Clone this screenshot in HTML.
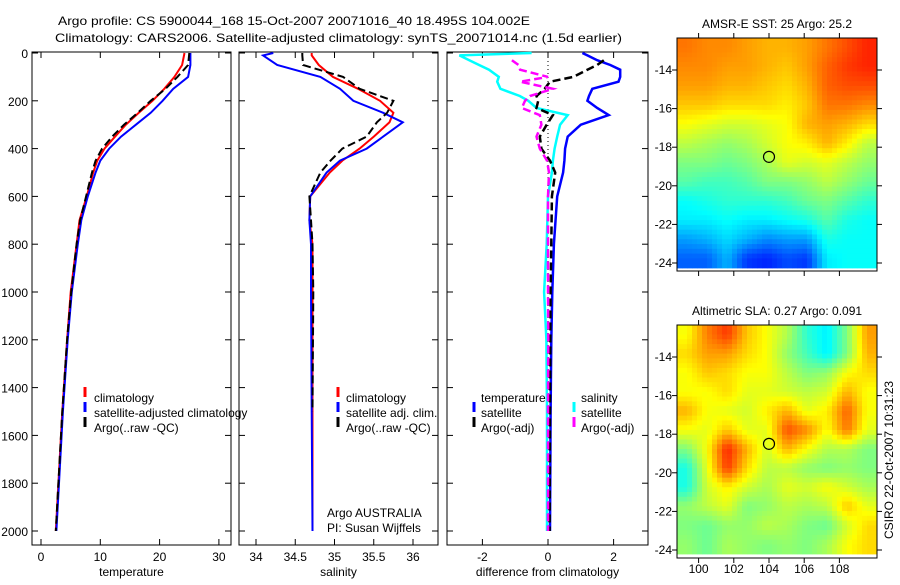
<!DOCTYPE html>
<html><head><meta charset="utf-8"><style>
html,body{margin:0;padding:0;background:#fff;}
svg text{font-family:"Liberation Sans",sans-serif;font-size:12px;fill:#000;}
</style></head><body>
<svg id="fig" width="900" height="580" viewBox="0 0 900 580">
<text x="58" y="25" font-size="15" textLength="472" lengthAdjust="spacingAndGlyphs">Argo profile: CS 5900044_168 15-Oct-2007 20071016_40 18.495S 104.002E</text>
<text x="55" y="42" font-size="15" textLength="567" lengthAdjust="spacingAndGlyphs">Climatology: CARS2006. Satellite-adjusted climatology: synTS_20071014.nc (1.5d earlier)</text>
<g id="g"></g>
</svg>
<script>
// ---- data ----
const depthT = [0,50,100,150,200,250,300,350,400,450,500,600,700,800,1000,1200,1500,2000];
const tempClim = [24.2,23.8,22.5,20.8,18.8,16.5,14.3,12.5,10.7,9.5,8.8,7.7,6.5,6.0,5.0,4.4,3.6,2.5];
const tempSat = [25.2,25.2,24.8,22.3,20.5,18.5,16.0,13.5,11.5,10.0,9.2,7.9,6.8,6.2,5.2,4.5,3.7,2.6];
const tempArgo = [25.0,24.8,23.0,21.0,18.5,16.3,14.0,12.0,10.3,9.2,8.6,7.6,6.6,6.0,5.1,4.4,3.6,2.5];

const depthS = [0,10,50,100,150,200,250,290,350,400,450,500,600,700,800,1000,1500,2000];
const salClim = [34.71,34.71,34.80,34.98,35.30,35.58,35.75,35.70,35.50,35.32,35.10,34.94,34.69,34.68,34.72,34.72,34.72,34.72];
const salSat = [34.22,34.09,34.27,34.82,35.07,35.24,35.62,35.87,35.62,35.41,35.07,34.90,34.69,34.68,34.70,34.70,34.71,34.72];
const salArgo = [34.59,34.59,34.60,35.11,35.32,35.75,35.67,35.54,35.41,35.10,34.95,34.82,34.68,34.70,34.72,34.73,34.72,34.72];

const depthD = [0,10,30,50,70,100,120,150,180,200,230,260,300,350,400,450,500,600,800,1000,1200,1500,2000];
const dTempSat = [1.05,1.2,1.5,1.9,2.2,2.2,2.15,1.35,1.25,1.2,1.5,1.85,1.0,0.6,0.52,0.5,0.46,0.28,0.18,0.13,0.1,0.08,0.06];
const dSalSat = [-0.5,-2.7,-2.4,-2.1,-1.8,-1.5,-1.55,-1.45,-0.86,-0.6,-0.35,0.6,0.37,0.28,0.2,0.15,0.12,0.0,-0.04,-0.12,-0.05,-0.03,-0.03];
const dTempArgo = [null,null,1.7,1.5,1.2,0.77,0.06,-0.1,-0.35,-0.3,-0.35,0.15,-0.04,-0.25,-0.2,0.06,0.22,0.12,0.1,0.08,0.07,0.06,0.05];
const dSalArgo = [null,null,-1.1,-0.9,-0.85,0.0,-0.85,0.15,-0.55,-0.7,-0.8,-0.25,-0.2,-0.35,-0.25,-0.03,0.03,0.0,0.0,0.0,0.01,0.0,0.0];

const depthTicks = [0,200,400,600,800,1000,1200,1400,1600,1800,2000];
const tempTicks = [0,10,20,30];
const salTicks = [34,34.5,35,35.5,36];
const salTickLabels = ["34","34.5","35","35.5","36"];
const diffTicks = [-2,0,2];
const lonTicks = [100,102,104,106,108];
const latTicks = [-14,-16,-18,-20,-22,-24];

const sstGrid = [
[.76,.74,.74,.72,.70,.70,.72,.76,.80,.84],
[.74,.74,.72,.72,.70,.68,.72,.78,.82,.84],
[.72,.72,.70,.70,.68,.66,.70,.78,.80,.80],
[.68,.68,.66,.66,.66,.64,.68,.76,.76,.74],
[.62,.60,.58,.58,.60,.62,.70,.72,.70,.66],
[.56,.54,.52,.54,.58,.62,.64,.70,.64,.56],
[.50,.50,.48,.50,.54,.60,.58,.60,.56,.52],
[.46,.44,.44,.46,.50,.50,.52,.56,.52,.48],
[.38,.40,.42,.42,.42,.44,.48,.50,.46,.42],
[.36,.36,.38,.36,.36,.38,.40,.46,.40,.38],
[.28,.30,.34,.30,.26,.28,.28,.40,.38,.38],
[.22,.22,.30,.18,.16,.20,.18,.36,.38,.38]];
const slaGrid = [
[.62,.75,.82,.68,.62,.55,.42,.36,.50,.72],
[.66,.72,.72,.66,.62,.52,.44,.36,.50,.70],
[.62,.68,.66,.62,.62,.56,.50,.52,.62,.66],
[.62,.62,.66,.60,.60,.58,.56,.58,.70,.62],
[.70,.62,.60,.58,.64,.70,.60,.64,.78,.62],
[.62,.60,.68,.60,.60,.80,.74,.62,.76,.60],
[.50,.62,.84,.70,.58,.70,.62,.55,.55,.50],
[.40,.60,.82,.66,.56,.56,.52,.50,.52,.50],
[.40,.58,.64,.58,.54,.60,.58,.62,.58,.54],
[.52,.56,.60,.50,.52,.56,.54,.56,.68,.60],
[.50,.48,.52,.52,.56,.54,.50,.48,.58,.66],
[.52,.48,.54,.52,.50,.52,.50,.54,.62,.66]];
const argoLon = 104.0, argoLat = -18.5;

// ---- drawing ----
const NS='http://www.w3.org/2000/svg';
const G=document.getElementById('g');
function el(t,a,p){const e=document.createElementNS(NS,t);for(const k in a)e.setAttribute(k,a[k]);(p||G).appendChild(e);return e;}
const yD = d => 53 + d*0.239;
function line(xs, ds, xf, color, w, dash, name){
  let pts=[];const segs=[];
  xs.forEach((v,i)=>{ if(v===null){ if(pts.length)segs.push(pts);pts=[];} else pts.push(xf(v).toFixed(1)+','+yD(ds[i]).toFixed(1)); });
  if(pts.length)segs.push(pts);
  segs.forEach(s=>{const p=el('polyline',{points:s.join(' '),fill:'none',stroke:color,'stroke-width':w});
    if(dash)p.setAttribute('stroke-dasharray',dash);
    
    });
}
function panel(x0,x1,ticks,labels,xf,title,name){
  const r=el('rect',{x:x0,y:52,width:x1-x0,height:493,fill:'none',stroke:'#000','stroke-width':1});
  
  
  ticks.forEach((t,i)=>{const x=xf(t);
    el('line',{x1:x,x2:x,y1:545,y2:539,stroke:'#000'});el('line',{x1:x,x2:x,y1:52,y2:58,stroke:'#000'});
    const tx=el('text',{x:x,y:561,'text-anchor':'middle'});tx.textContent=labels[i];
    
    });
  depthTicks.forEach(d=>{const y=yD(d);el('line',{x1:x0,x2:x0+6,y1:y,y2:y,stroke:'#000'});el('line',{x1:x1,x2:x1-6,y1:y,y2:y,stroke:'#000'});});
  const tt=el('text',{x:(x0+x1)/2,y:576,'text-anchor':'middle'});tt.textContent=title;
  
  
}
function txt(x,y,s,name,anchor){const t=el('text',{x:x,y:y});if(anchor)t.setAttribute('text-anchor',anchor);t.textContent=s;
  
  return t;}
function mark(x,y,c){el('line',{x1:x,x2:x,y1:y-11,y2:y-1,stroke:c,'stroke-width':3});}

depthTicks.forEach(d=>{txt(28,yD(d)+5,String(d),'depth-tick-label','end');});

// Panel 1 temperature
const xT=v=>41+v*5.93;
panel(32,231,tempTicks,tempTicks.map(String),xT,'temperature','temperature-panel');
line(tempClim,depthT,xT,'#f00',2,null,'temperature-climatology-line');
line(tempSat,depthT,xT,'#00f',2,null,'temperature-satellite-line');
line(tempArgo,depthT,xT,'#000',2,'8,4','temperature-argo-line');
mark(85,398,'#f00');txt(94,402,'climatology','legend-entry-climatology');
mark(85,413,'#00f');txt(94,417,'satellite-adjusted climatology','legend-entry-satellite');
mark(85,428,'#000');txt(94,432,'Argo(..raw -QC)','legend-entry-argo');

// Panel 2 salinity
const xS=v=>256+(v-34)*78.5;
panel(239,438,salTicks,salTickLabels,xS,'salinity','salinity-panel');
line(salClim,depthS,xS,'#f00',2,null,'salinity-climatology-line');
line(salSat,depthS,xS,'#00f',2,null,'salinity-satellite-line');
line(salArgo.map((v,i)=>depthS[i]>1950?null:v),depthS,xS,'#000',2,'8,4','salinity-argo-line');
mark(338,398,'#f00');txt(346,402,'climatology','legend-entry-climatology');
mark(338,413,'#00f');txt(346,417,'satellite adj. clim.','legend-entry-satellite');
mark(338,428,'#000');txt(346,432,'Argo(..raw -QC)','legend-entry-argo');
txt(327,517,'Argo AUSTRALIA','argo-country-label');
txt(327,532,'PI: Susan Wijffels','pi-label');

// Panel 3 difference
const xDf=v=>548+v*32.8;
panel(447,648,diffTicks,diffTicks.map(String),xDf,'difference from climatology','difference-panel');
el('line',{x1:548,x2:548,y1:53,y2:531,stroke:'#000','stroke-dasharray':'1,3'});
line(dTempSat,depthD,xDf,'#00f',2.5,null,'diff-temperature-satellite-line');
line(dSalSat,depthD,xDf,'#0ff',2.5,null,'diff-salinity-satellite-line');
line(dTempArgo,depthD,xDf,'#000',2.5,'8,4','diff-temperature-argo-line');
line(dSalArgo,depthD,xDf,'#f0f',2.5,'8,4','diff-salinity-argo-line');
txt(481,402,'temperature','legend-header-temperature');
txt(581,402,'salinity','legend-header-salinity');
mark(474,413,'#00f');txt(481,417,'satellite','legend-entry-temp-satellite');
mark(474,428,'#000');txt(481,432,'Argo(-adj)','legend-entry-temp-argo');
mark(574,413,'#0ff');txt(581,417,'satellite','legend-entry-sal-satellite');
mark(574,428,'#f0f');txt(581,432,'Argo(-adj)','legend-entry-sal-argo');

// maps
function jet(v){const r=Math.min(Math.max(Math.min(4*v-1.5,-4*v+4.5),0),1);
  const g=Math.min(Math.max(Math.min(4*v-0.5,-4*v+3.5),0),1);
  const b=Math.min(Math.max(Math.min(4*v+0.5,-4*v+2.5),0),1);
  return 'rgb('+Math.round(r*255)+','+Math.round(g*255)+','+Math.round(b*255)+')';}
function sample(grid,fy,fx){ // bilinear on cell centres
  const rows=grid.length, cols=grid[0].length;
  let y=Math.min(Math.max(fy-0.5,0),rows-1), x=Math.min(Math.max(fx-0.5,0),cols-1);
  const i=Math.floor(y), j=Math.floor(x), i2=Math.min(i+1,rows-1), j2=Math.min(j+1,cols-1);
  const ty=y-i, tx=x-j;
  return (grid[i][j]*(1-tx)+grid[i][j2]*tx)*(1-ty)+(grid[i2][j]*(1-tx)+grid[i2][j2]*tx)*ty;
}
function map(top,grid,title,name,xlabels,bottomGap){
  const L=677,R=877,B=top+233;
  const lonX=lo=>769+(lo-104)*17.6;
  const latY=la=>top+32+(-14-la)*19.3;
  const rows=grid.length, cols=grid[0].length;
  const S=4, nr=rows*S, nc=cols*S;
  const cw=(R-L)/nc, ch=(B-top-bottomGap)/nr;
  const cg=el('g',{});
  
  
  for(let i=0;i<nr;i++)for(let j=0;j<nc;j++){
    const v=sample(grid,(i+0.5)/S,(j+0.5)/S);
    el('rect',{x:(L+j*cw).toFixed(2),y:(top+i*ch).toFixed(2),width:(cw+0.4).toFixed(2),height:(ch+0.4).toFixed(2),fill:jet(v)},cg);}
  const fr=el('rect',{x:L,y:top,width:R-L,height:B-top,fill:'none',stroke:'#000'});
  
  
  lonTicks.forEach(lo=>{const x=lonX(lo);el('line',{x1:x,x2:x,y1:B,y2:B+5,stroke:'#000'});el('line',{x1:x,x2:x,y1:top,y2:top-5,stroke:'#000'});
    if(xlabels)txt(x,B+15,String(lo),name+'-lon-label','middle');});
  latTicks.forEach(la=>{const y=latY(la);el('line',{x1:L,x2:L-5,y1:y,y2:y,stroke:'#000'});el('line',{x1:R,x2:R+5,y1:y,y2:y,stroke:'#000'});
    txt(672,y+4,String(la),name+'-lat-label','end');});
  const c=el('circle',{cx:lonX(argoLon),cy:latY(argoLat),r:5.5,fill:'none',stroke:'#000','stroke-width':1.2});
  
  
  const t=txt(777,top-10,title,name+'-title','middle');
  t.setAttribute('font-size','13');
}
map(38,sstGrid,'AMSR-E SST: 25 Argo: 25.2','sst-map',false,3);
map(325,slaGrid,'Altimetric SLA: 0.27 Argo: 0.091','sla-map',true,4);
const cs=txt(0,0,'CSIRO 22-Oct-2007 10:31:23','timestamp-label','middle');
cs.setAttribute('transform','translate(893,460) rotate(-90)');
</script>
</body></html>
